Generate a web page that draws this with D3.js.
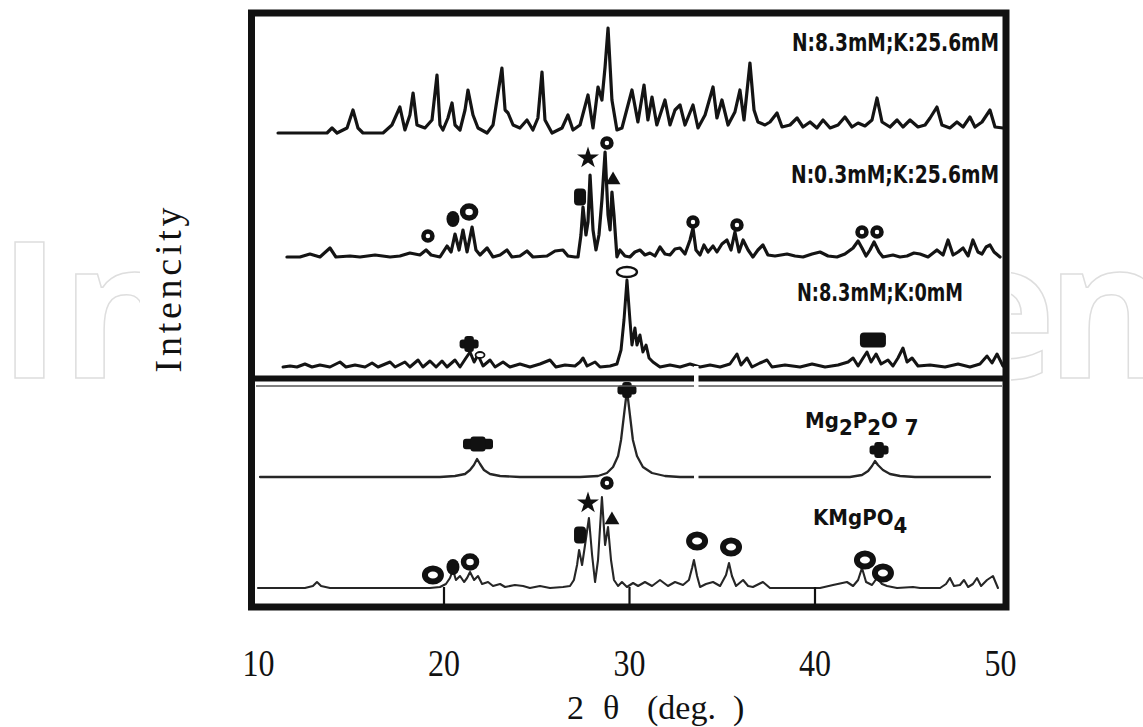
<!DOCTYPE html>
<html>
<head>
<meta charset="utf-8">
<script src="https://cdn.jsdelivr.net/npm/d3@7"></script>
<style>
  body { margin: 0; background: #fff; }
  svg { display: block; }
</style>
</head>
<body>
<svg id="chart" width="1143" height="727"></svg>
<script>
// ---- data: 2θ (deg.) vs. intensity (a.u., measured from each pattern's own baseline) ----
const xTicks = [10, 20, 30, 40, 50];
const innerTicks = [20, 30, 40];

const seriesNames = ["N:8.3mM;K:25.6mM", "N:0.3mM;K:25.6mM", "N:8.3mM;K:0mM", "Mg2P2O7", "KMgPO4"];

const patternN83K256 = [[11.08,0],[13.72,0],[13.99,5],[14.26,0],[14.80,5],[15.12,23],[15.39,5],[15.66,0],[16.74,0],[17.22,8],[17.65,26],[17.92,3],[18.19,18],[18.36,40],[18.57,8],[19.00,5],[19.38,13],[19.65,58],[19.81,8],[19.97,3],[20.24,15],[20.46,30],[20.62,8],[20.89,3],[21.16,23],[21.32,43],[21.59,18],[21.86,5],[22.35,0],[22.67,8],[23.15,65],[23.32,23],[23.48,20],[23.75,8],[24.12,5],[24.50,13],[24.82,3],[25.09,15],[25.31,61],[25.47,13],[25.85,0],[26.39,5],[26.71,18],[26.98,3],[27.36,8],[27.79,38],[28.06,5],[28.33,46],[28.54,33],[28.71,66],[28.87,105],[29.08,33],[29.35,3],[29.62,5],[30.16,43],[30.48,11],[30.81,48],[31.02,13],[31.24,36],[31.50,8],[31.94,33],[32.21,8],[32.48,23],[32.75,28],[33.02,8],[33.45,28],[33.72,5],[34.10,18],[34.53,46],[34.74,15],[35.01,33],[35.34,8],[35.71,21],[35.98,43],[36.20,13],[36.52,70],[36.74,23],[36.95,11],[37.33,8],[37.60,11],[37.98,20],[38.25,6],[38.68,8],[39.06,15],[39.38,6],[39.76,11],[40.13,5],[40.46,13],[40.84,5],[41.27,8],[41.64,16],[42.02,6],[42.35,10],[42.72,7],[43.10,13],[43.37,35],[43.64,11],[44.07,6],[44.45,13],[44.77,6],[45.15,13],[45.58,6],[45.96,8],[46.23,15],[46.60,26],[46.87,8],[47.30,5],[47.68,11],[48.01,6],[48.38,16],[48.65,6],[49.03,11],[49.46,23],[49.73,6],[50.16,5]];

const patternN03K256 = [[11.56,0],[12.26,0],[12.80,3],[13.34,0],[13.88,9],[14.20,0],[14.96,1],[15.50,0],[16.31,2],[17.12,0],[17.65,1],[18.19,4],[18.73,2],[19.06,7],[19.33,2],[19.81,0],[20.19,11],[20.41,5],[20.62,23],[20.84,7],[21.05,27],[21.27,5],[21.54,30],[21.75,7],[21.97,2],[22.35,9],[22.67,0],[23.05,2],[23.42,7],[23.69,0],[24.12,1],[24.50,6],[24.82,0],[25.58,1],[26.01,6],[26.44,7],[26.71,1],[27.09,0],[27.25,0],[27.41,22],[27.52,50],[27.68,22],[27.79,35],[27.90,82],[28.06,27],[28.22,7],[28.38,22],[28.54,57],[28.71,105],[28.87,42],[28.98,27],[29.08,65],[29.19,42],[29.35,0],[29.51,7],[29.78,1],[30.05,0],[30.32,5],[30.59,7],[30.86,2],[31.13,4],[31.40,1],[31.67,10],[31.94,3],[32.21,2],[32.48,8],[32.75,9],[33.02,3],[33.29,17],[33.45,29],[33.61,7],[33.83,2],[34.04,12],[34.26,5],[34.53,11],[34.74,5],[35.01,13],[35.28,17],[35.50,7],[35.71,25],[35.93,5],[36.15,17],[36.42,7],[36.68,0],[36.95,7],[37.22,12],[37.49,2],[37.87,1],[38.52,3],[38.95,1],[39.38,0],[39.87,3],[40.30,5],[40.73,1],[41.21,0],[41.64,3],[42.08,9],[42.35,16],[42.56,9],[42.78,1],[42.99,7],[43.21,15],[43.48,5],[43.69,0],[44.23,2],[44.61,0],[44.99,1],[45.36,4],[45.69,3],[46.12,0],[46.60,7],[46.93,2],[47.20,17],[47.47,2],[47.74,5],[48.01,9],[48.28,1],[48.54,17],[48.81,5],[49.03,3],[49.25,10],[49.46,12],[49.68,5],[50.00,0]];

const patternN83K0 = [[11.35,0],[11.73,1],[12.10,0],[12.53,3],[12.91,0],[13.34,2],[13.88,0],[14.42,5],[14.74,0],[15.23,2],[15.77,0],[16.15,4],[16.47,0],[17.12,5],[17.39,0],[17.92,5],[18.19,0],[18.63,7],[18.89,0],[19.27,6],[19.60,0],[19.92,6],[20.19,0],[20.62,7],[20.89,0],[21.21,9],[21.43,15],[21.65,5],[21.86,12],[22.13,1],[22.51,7],[22.78,0],[23.21,5],[23.58,0],[24.12,3],[24.66,0],[25.20,3],[25.74,7],[26.06,0],[26.55,2],[27.09,1],[27.36,5],[27.52,9],[27.74,1],[28.17,5],[28.44,0],[28.98,1],[29.35,3],[29.57,17],[29.73,47],[29.89,87],[30.05,47],[30.16,22],[30.32,39],[30.43,22],[30.59,32],[30.75,15],[30.92,22],[31.08,9],[31.29,5],[31.67,0],[32.21,2],[32.75,0],[33.29,3],[33.83,0],[34.37,2],[34.91,0],[35.44,3],[35.82,13],[36.04,2],[36.36,9],[36.63,0],[37.06,4],[37.44,7],[37.71,0],[38.41,2],[39.22,0],[39.87,3],[40.57,0],[41.27,2],[41.81,5],[42.08,9],[42.35,1],[42.62,9],[42.83,15],[43.05,5],[43.32,13],[43.59,3],[43.96,7],[44.23,1],[44.50,9],[44.77,19],[44.99,5],[45.26,9],[45.58,1],[46.23,2],[47.04,0],[47.74,3],[48.38,0],[48.92,3],[49.30,11],[49.57,4],[49.84,13],[50.16,1]];

const patternMg2P2O7 = [[10.11,0],[19.81,0],[20.62,1],[21.16,3],[21.43,7],[21.64,12],[21.81,18],[21.97,13],[22.18,7],[22.51,3],[23.05,1],[24.12,0],[27.36,0],[28.33,1],[28.81,4],[29.14,10],[29.41,21],[29.57,37],[29.73,62],[29.89,87],[30.05,62],[30.21,37],[30.43,21],[30.75,10],[31.24,4],[31.94,1],[32.75,0],[41.91,0],[42.56,2],[42.89,6],[43.10,11],[43.26,16],[43.42,12],[43.69,7],[44.07,3],[44.61,1],[45.42,0],[49.46,0]];

const patternKMgPO4 = [[10.00,0],[12.53,0],[12.96,2],[13.18,6],[13.40,2],[13.88,0],[19.27,0],[19.81,1],[20.13,4],[20.35,10],[20.51,18],[20.67,8],[20.89,12],[21.11,6],[21.27,10],[21.43,16],[21.65,8],[21.86,12],[22.08,4],[22.40,6],[22.67,2],[23.05,4],[23.32,1],[23.85,3],[24.29,2],[24.66,0],[25.20,2],[25.74,0],[26.44,1],[26.82,2],[27.03,8],[27.20,23],[27.31,38],[27.47,23],[27.63,43],[27.84,70],[28.01,33],[28.17,6],[28.33,28],[28.54,91],[28.71,43],[28.87,61],[29.03,28],[29.19,8],[29.41,2],[29.62,6],[29.89,1],[30.22,5],[30.49,2],[30.86,6],[31.24,2],[31.67,8],[32.10,2],[32.48,6],[32.91,3],[33.23,8],[33.40,20],[33.50,28],[33.67,12],[33.83,1],[34.15,4],[34.53,6],[34.91,2],[35.23,13],[35.39,25],[35.55,12],[35.77,2],[36.15,8],[36.42,2],[36.68,1],[37.22,6],[37.60,0],[38.52,0],[39.60,0],[40.30,0],[41.00,3],[41.75,6],[42.08,2],[42.35,8],[42.56,20],[42.78,6],[43.10,3],[43.37,10],[43.64,4],[43.91,2],[44.45,0],[45.31,1],[45.69,0],[46.77,0],[47.09,4],[47.30,10],[47.52,2],[47.84,3],[48.06,8],[48.28,1],[48.54,4],[48.76,10],[48.98,2],[49.30,8],[49.62,12],[49.89,0]];

// phase symbols: [2θ, intensity above baseline, symbol]
const marksN83K256 = [];
const marksN03K256 = [[19.16,21,"ring"],[20.51,38,"blob"],[21.38,45,"ringM"],[27.36,60,"square"],[27.79,99,"star"],[28.81,114,"ring"],[29.14,77,"tri"],[33.45,35,"ring"],[35.82,32,"ring"],[42.56,25,"ring"],[43.37,25,"ring"]];
const marksN83K0 = [[21.38,23,"plus"],[21.97,12,"ringOpenSmall"],[29.89,95,"ellipseOpen"],[43.15,27,"rect"]];
const marksMg2P2O7 = [[21.86,33,"plusWide"],[29.89,87,"plus"],[43.48,27,"plus"]];
const marksKMgPO4 = [[19.43,13,"ringL"],[20.51,21,"blob"],[21.43,26,"ringM"],[27.36,53,"square"],[27.79,85,"star"],[28.81,105,"ring"],[29.08,68,"tri"],[33.67,47,"ringL"],[35.50,41,"ringL"],[42.72,28,"ringL"],[43.69,15,"ringL"]];

// ---- layout ----
const W = 1143, H = 727;
const frame = { left: 251.5, top: 13, right: 1006, bottom: 607 };
const x = d3.scaleLinear().domain([10, 50]).range([258, 1000]);
const y = d3.scaleLinear().domain([0, 590]).range([603, 13]);

// vertical stacking offset (a.u.) and line style of each pattern
const stack = [
  { data: patternN83K256, marks: marksN83K256, offset: 470, width: 3.2, color: "#141414" },
  { data: patternN03K256, marks: marksN03K256, offset: 346, width: 3.2, color: "#141414" },
  { data: patternN83K0,   marks: marksN83K0,   offset: 236, width: 3.0, color: "#141414" },
  { data: patternMg2P2O7, marks: marksMg2P2O7, offset: 126, width: 2.3, color: "#262626" },
  { data: patternKMgPO4,  marks: marksKMgPO4,  offset: 15,  width: 2.1, color: "#262626" }
];

const markStyle = {
  ring:          { rx: 4.5, ry: 4.5, sw: 4.5 },
  ringM:         { rx: 6.5, ry: 6,   sw: 5.5 },
  ringL:         { rx: 8,   ry: 6.5, sw: 6 },
  blob:          { rx: 6.5, ry: 8 },
  square:        { w: 12, h: 17 },
  star:          { size: 150 },
  tri:           { size: 95 },
  plus:          { w: 19, h: 16 },
  plusWide:      { w: 30, h: 15 },
  ellipseOpen:   { rx: 10, ry: 5, sw: 2.4 },
  ringOpenSmall: { rx: 4.5, ry: 3, sw: 1.8 },
  rect:          { w: 26, h: 15 }
};

const svg = d3.select("#chart");
const serif = "'Liberation Serif', 'DejaVu Serif', serif";
const gothic = "'DejaVu Sans Condensed', 'Liberation Sans Narrow', sans-serif";

// background mark (outlined lettering behind the figure)
const wm = svg.append("g")
  .attr("font-family", "'Open Sans', 'Liberation Sans', sans-serif")
  .attr("font-weight", 700)
  .attr("font-size", 190)
  .attr("fill", "none")
  .attr("stroke", "#dedede")
  .attr("stroke-width", 1.5);
wm.append("text").attr("x", -2).attr("y", 378).text("In");
wm.append("text").attr("x", 1056).attr("y", 378).attr("text-anchor", "end").text("e");
wm.append("text").attr("x", 1046).attr("y", 378).text("n");

svg.append("rect").attr("x", 140).attr("y", 0).attr("width", 871).attr("height", H).attr("fill", "#fff");

// patterns
const line = d3.line().curve(d3.curveLinear);
const plot = svg.append("g");
stack.forEach(s => {
  plot.append("path")
    .datum(s.data)
    .attr("fill", "none")
    .attr("stroke", s.color)
    .attr("stroke-width", s.width)
    .attr("stroke-linejoin", "round")
    .attr("stroke-linecap", "round")
    .attr("d", line.x(d => x(d[0])).y(d => y(d[1] + s.offset)));
});

// phase symbols
function drawMark(g, kind, cx, cy) {
  const st = markStyle[kind];
  if (kind.startsWith("ring") || kind === "ellipseOpen") {
    g.append("ellipse").attr("cx", cx).attr("cy", cy).attr("rx", st.rx).attr("ry", st.ry)
      .attr("fill", "#fff").attr("stroke", "#111").attr("stroke-width", st.sw);
  } else if (kind === "blob") {
    g.append("ellipse").attr("cx", cx).attr("cy", cy).attr("rx", st.rx).attr("ry", st.ry).attr("fill", "#111");
  } else if (kind === "square" || kind === "rect") {
    g.append("rect").attr("x", cx - st.w / 2).attr("y", cy - st.h / 2).attr("width", st.w).attr("height", st.h)
      .attr("rx", 4).attr("fill", "#111");
  } else if (kind === "star") {
    g.append("path").attr("transform", `translate(${cx},${cy})`)
      .attr("d", d3.symbol().type(d3.symbolStar).size(st.size)()).attr("fill", "#111");
  } else if (kind === "tri") {
    g.append("path").attr("transform", `translate(${cx},${cy})`)
      .attr("d", d3.symbol().type(d3.symbolTriangle).size(st.size)()).attr("fill", "#111");
  } else if (kind === "plus" || kind === "plusWide") {
    const w = st.w, h = st.h;
    const arm = kind === "plus" ? 0.55 : 0.7;
    g.append("rect").attr("x", cx - w / 2).attr("y", cy - h * arm / 2).attr("width", w).attr("height", h * arm)
      .attr("rx", 3).attr("fill", "#111");
    g.append("rect").attr("x", cx - w * 0.25).attr("y", cy - h / 2).attr("width", w * 0.5).attr("height", h)
      .attr("rx", 3).attr("fill", "#111");
  }
}
const marksG = svg.append("g");
stack.forEach(s => {
  s.marks.forEach(m => drawMark(marksG, m[2], x(m[0]), y(m[1] + s.offset)));
});

// pattern names
const lab = svg.append("g").attr("font-family", gothic).attr("font-weight", 700).attr("fill", "#111");
lab.append("text").attr("x", 792).attr("y", 51).attr("font-size", 25)
  .attr("textLength", 207).attr("lengthAdjust", "spacingAndGlyphs").text(seriesNames[0]);
lab.append("text").attr("x", 791).attr("y", 183).attr("font-size", 25)
  .attr("textLength", 208).attr("lengthAdjust", "spacingAndGlyphs").text(seriesNames[1]);
lab.append("text").attr("x", 797).attr("y", 301).attr("font-size", 24)
  .attr("textLength", 166).attr("lengthAdjust", "spacingAndGlyphs").text(seriesNames[2]);

const mg = lab.append("text").attr("x", 805).attr("y", 428).attr("font-size", 22);
mg.append("tspan").text("Mg");
mg.append("tspan").attr("dy", 7).text("2");
mg.append("tspan").attr("dy", -7).text("P");
mg.append("tspan").attr("dy", 7).text("2");
mg.append("tspan").attr("dy", -7).text("O");
mg.append("tspan").attr("dx", 7).attr("dy", 7).text("7");

const km = lab.append("text").attr("x", 813).attr("y", 525).attr("font-size", 22);
km.append("tspan").text("KMgPO");
km.append("tspan").attr("dy", 8).text("4");

// frame, panel divider
svg.append("line").attr("x1", 256).attr("x2", 1002).attr("y1", 386).attr("y2", 386)
  .attr("stroke", "#555").attr("stroke-width", 1.6);
svg.append("line").attr("x1", frame.left).attr("x2", frame.right).attr("y1", 378.5).attr("y2", 378.5)
  .attr("stroke", "#111").attr("stroke-width", 6);
svg.append("rect").attr("x", 694).attr("y", 366).attr("width", 4.5).attr("height", 115).attr("fill", "#fff");
svg.append("rect")
  .attr("x", frame.left).attr("y", frame.top)
  .attr("width", frame.right - frame.left).attr("height", frame.bottom - frame.top)
  .attr("fill", "none").attr("stroke", "#111").attr("stroke-width", 7);

// inner ticks
const tickAxis = svg.append("g").attr("transform", `translate(0,${frame.bottom - 3})`)
  .call(d3.axisBottom(x).tickValues(innerTicks).tickSize(-17).tickFormat(""));
tickAxis.select(".domain").remove();
tickAxis.selectAll(".tick line").attr("stroke", "#111").attr("stroke-width", 2.2);

// tick labels
const labAxis = svg.append("g").attr("transform", `translate(0,${frame.bottom})`)
  .call(d3.axisBottom(x).tickValues(xTicks).tickSize(0).tickPadding(42).tickFormat(d3.format("d")));
labAxis.select(".domain").remove();
labAxis.selectAll(".tick text")
  .attr("font-family", serif).attr("font-size", 38).attr("fill", "#111")
  .attr("textLength", 32).attr("lengthAdjust", "spacingAndGlyphs");

// axis titles
const xt = svg.append("text").attr("y", 719)
  .attr("font-family", serif).attr("font-size", 34).attr("fill", "#111");
xt.append("tspan").attr("x", 567).text("2");
xt.append("tspan").attr("x", 603).text("θ");
xt.append("tspan").attr("x", 647).text("(deg.");
xt.append("tspan").attr("x", 733).text(")");

svg.append("text").attr("transform", "translate(181,290) rotate(-90)").attr("text-anchor", "middle")
  .attr("font-family", serif).attr("font-size", 38).attr("fill", "#111")
  .attr("textLength", 165).attr("lengthAdjust", "spacing")
  .text("Intencity");
</script>
</body>
</html>
